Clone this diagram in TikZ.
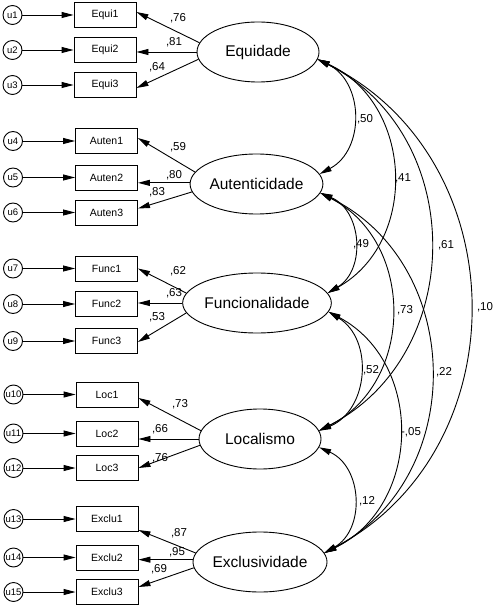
\documentclass[tikz,border=0pt]{standalone}
\usepackage{fontspec}
\setmainfont{Liberation Sans}
\usetikzlibrary{shapes.geometric,arrows.meta}
\begin{document}
\begin{tikzpicture}[x=1pt,y=-1pt,
  err/.style={circle,draw,line width=0.9pt,minimum size=19pt,inner sep=0pt,font=\fontsize{9.5}{10}\selectfont},
  obs/.style={rectangle,draw,line width=0.9pt,minimum width=62pt,minimum height=25pt,inner sep=0pt,font=\fontsize{10.5}{12}\selectfont},
  lat/.style={ellipse,draw,line width=0.9pt,minimum width=122pt,minimum height=60pt,inner sep=0pt,font=\fontsize{15.5}{18}\selectfont},
  tip/.style={line width=0.9pt,-{Triangle[length=12pt,width=6pt]}},
  cov/.style={line width=0.9pt,{Triangle[length=12pt,width=6pt]}-{Triangle[length=12pt,width=6pt]}},
  cv/.style={bend left=63,looseness=1.15},
  lbl/.style={inner sep=0pt,font=\fontsize{11.5}{12}\selectfont}]
\useasboundingbox (0,0) rectangle (495,609);

% latent variables
\node[lat] (Eq)  at (258,52)  {Equidade};
\node[lat] (Aut) at (256.5,184) {Autenticidade};
\node[lat] (Fun) at (257,303) {Funcionalidade};
\node[lat] (Loc) at (260,439) {Localismo};
\node[lat] (Exc) at (260,562) {Exclusividade};

% observed
\node[obs] (e1) at (105,15) {Equi1};
\node[obs] (e2) at (105,50) {Equi2};
\node[obs] (e3) at (105,85) {Equi3};
\node[obs] (a1) at (106.5,141) {Auten1};
\node[obs] (a2) at (106.5,177.5) {Auten2};
\node[obs] (a3) at (106.5,212.5) {Auten3};
\node[obs] (f1) at (106.5,268.5) {Func1};
\node[obs] (f2) at (106.5,304) {Func2};
\node[obs] (f3) at (106.5,341) {Func3};
\node[obs] (l1) at (107,394.5) {Loc1};
\node[obs] (l2) at (107,433.5) {Loc2};
\node[obs] (l3) at (107,468) {Loc3};
\node[obs] (x1) at (107,519) {Exclu1};
\node[obs] (x2) at (107,557.5) {Exclu2};
\node[obs] (x3) at (107,592) {Exclu3};

% errors
\node[err] (u1) at (12.5,15) {u1};
\node[err] (u2) at (12.5,50) {u2};
\node[err] (u3) at (12.5,85) {u3};
\node[err] (u4) at (13,141) {u4};
\node[err] (u5) at (13,177.5) {u5};
\node[err] (u6) at (13,212.5) {u6};
\node[err] (u7) at (13,268.5) {u7};
\node[err] (u8) at (13,304) {u8};
\node[err] (u9) at (13,341) {u9};
\node[err] (u10) at (13.5,394.5) {u10};
\node[err] (u11) at (13.5,433.5) {u11};
\node[err] (u12) at (13.5,468) {u12};
\node[err] (u13) at (13.5,519) {u13};
\node[err] (u14) at (13.5,557.5) {u14};
\node[err] (u15) at (13.5,592) {u15};

\foreach \u/\b in {u1/e1,u2/e2,u3/e3,u4/a1,u5/a2,u6/a3,u7/f1,u8/f2,u9/f3,u10/l1,u11/l2,u12/l3,u13/x1,u14/x2,u15/x3}
  \draw[tip] (\u) -- (\b);

% loadings
\draw[tip] (Eq.171.5) -- ([yshift=3pt]e1.east);
\draw[tip] (Eq.180) -- (Eq.180 -| e2.east);
\draw[tip] (Eq.187.5) -- ([yshift=-3pt]e3.east);
\draw[tip] (Aut.169.5) -- ([yshift=3pt]a1.east);
\draw[tip] (Aut.179) -- (Aut.179 -| a2.east);
\draw[tip] (Aut.187.7) -- ([yshift=4pt]a3.east);
\draw[tip] (Fun.172) -- (f1.east);
\draw[tip] (Fun.180) -- (Fun.180 -| f2.east);
\draw[tip] (Fun.188.8) -- ([yshift=-1pt]f3.east);
\draw[tip] (Loc.172.3) -- ([yshift=-3.5pt]l1.east);
\draw[tip] (Loc.180) -- (Loc.180 -| l2.east);
\draw[tip] (Loc.186.8) -- (l3.east);
\draw[tip] (Exc.172.4) -- ([yshift=-11pt]x1.east);
\draw[tip] (Exc.178) -- (Exc.178 -| x2.east);
\draw[tip] (Exc.185.7) -- ([yshift=5pt]x3.east);

\node[lbl] (t1) at (178,18) {,76};
\node[lbl] (t2) at (174,42) {,81};
\node[lbl] (t3) at (157,67) {,64};
\node[lbl] (t4) at (178,147) {,59};
\node[lbl] (t5) at (174,175) {,80};
\node[lbl] (t6) at (157,192) {,83};
\node[lbl] (t7) at (178,271) {,62};
\node[lbl] (t8) at (174,293) {,63};
\node[lbl] (t9) at (157,317) {,53};
\node[lbl] (t10) at (180,404) {,73};
\node[lbl] (t11) at (160,429) {,66};
\node[lbl] (t12) at (160,458) {,76};
\node[lbl] (t13) at (179,533) {,87};
\node[lbl] (t14) at (177,552) {,95};
\node[lbl] (t15) at (159,569) {,69};

% covariances
\draw[cov] (Eq.-7) to[cv] (Aut.9);
\draw[cov] (Eq.-7) to[cv] (Fun.8);
\draw[cov] (Eq.-7) to[cv] (Loc.8);
\draw[cov] (Eq.-7) to[cv] (Exc.8);
\draw[cov] (Aut.-8) to[cv] (Fun.8);
\draw[cov] (Aut.-8) to[cv] (Loc.8);
\draw[cov] (Aut.-8) to[cv] (Exc.8);
\draw[cov] (Fun.-7) to[cv] (Loc.8);
\draw[cov] (Fun.-7) to[cv] (Exc.8);
\draw[cov] (Loc.-8) to[cv] (Exc.8);

\node[lbl] (c1) at (365,119) {,50};
\node[lbl] (c2) at (403,178) {,41};
\node[lbl] (c3) at (361,244) {,49};
\node[lbl] (c4) at (446,245) {,61};
\node[lbl] (c5) at (405,310) {,73};
\node[lbl] (c6) at (485,307) {,10};
\node[lbl] (c7) at (371,370) {,52};
\node[lbl] (c8) at (444,372) {,22};
\node[lbl] (c9) at (411,432) {-,05};
\node[lbl] (c10) at (367,501) {,12};
\end{tikzpicture}
\end{document}
